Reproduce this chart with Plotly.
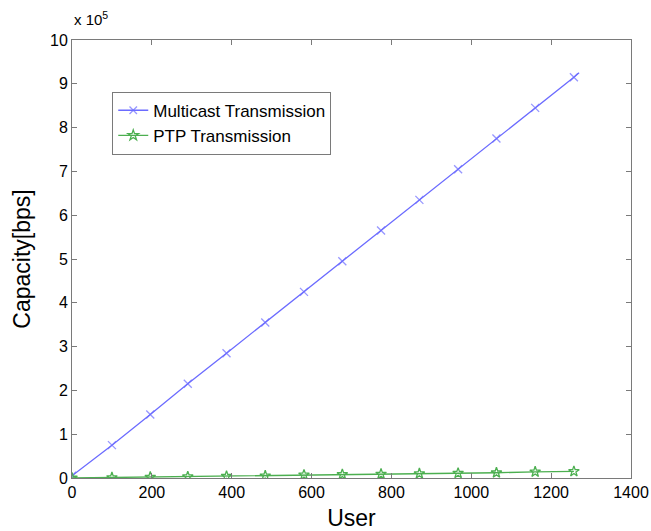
import plotly.graph_objects as go

# Data (capacity in units of 1e5 bps)
users = [0, 100, 196, 290, 387, 484, 581, 677, 774, 870, 967, 1063, 1160, 1257]
multicast_x1e5 = [0.05, 0.75, 1.45, 2.15, 2.85, 3.55, 4.25, 4.95, 5.65, 6.35, 7.05, 7.75, 8.45, 9.15]
ptp_x1e5 = [0.0, 0.01, 0.02, 0.03, 0.04, 0.05, 0.07, 0.08, 0.09, 0.10, 0.11, 0.12, 0.14, 0.15]
multicast_line_end = (1270, 9.25)

x_ticks = [0, 200, 400, 600, 800, 1000, 1200, 1400]
y_ticks = [0, 1, 2, 3, 4, 5, 6, 7, 8, 9, 10]

blue = "#6b6bff"
green = "#4caf50"
font = "Liberation Sans, Arial, sans-serif"

fig = go.Figure()
mx = users + [multicast_line_end[0]]
my = multicast_x1e5 + [multicast_line_end[1]]
msz = [8] * len(users) + [0]
fig.add_trace(go.Scatter(
    x=mx, y=my, mode="lines+markers", name="Multicast Transmission",
    line=dict(color=blue, width=1.3),
    marker=dict(symbol="x-thin", size=msz, line=dict(color=blue, width=1.3), color=blue),
))
fig.add_trace(go.Scatter(
    x=users, y=ptp_x1e5, mode="lines+markers", name="PTP Transmission",
    line=dict(color=green, width=1.3),
    marker=dict(symbol="star-open", size=8, line=dict(color=green, width=1.3), color=green),
))

axis_common = dict(
    showgrid=False, zeroline=False, showline=True, linecolor="#7a7a7a", linewidth=1,
    mirror="ticks", ticks="inside", ticklen=5, tickcolor="#7a7a7a",
    tickfont=dict(family=font, size=16, color="black"), automargin=False,
)
fig.update_xaxes(range=[0, 1400], tickvals=x_ticks,
                 title=dict(text="User", font=dict(family=font, size=23, color="black"), standoff=10),
                 **axis_common)
fig.update_yaxes(range=[0, 10], tickvals=y_ticks,
                 title=dict(text="Capacity[bps]", font=dict(family=font, size=23, color="black"), standoff=12),
                 **axis_common)

fig.add_annotation(xref="paper", yref="paper", x=0, y=1, xanchor="left", yanchor="bottom",
                   text="x 10<sup>5</sup>", showarrow=False, yshift=10, xshift=0,
                   font=dict(family=font, size=15, color="black"))

fig.update_layout(
    width=651, height=531,
    margin=dict(l=72, r=20, t=40, b=53),
    plot_bgcolor="white", paper_bgcolor="white",
    legend=dict(x=0.072, y=0.882, xanchor="left", yanchor="top",
                bgcolor="white", bordercolor="#7a7a7a", borderwidth=1,
                font=dict(family=font, size=17, color="black"),
                tracegroupgap=0),
    showlegend=True,
)

fig.write_html("out.html")
